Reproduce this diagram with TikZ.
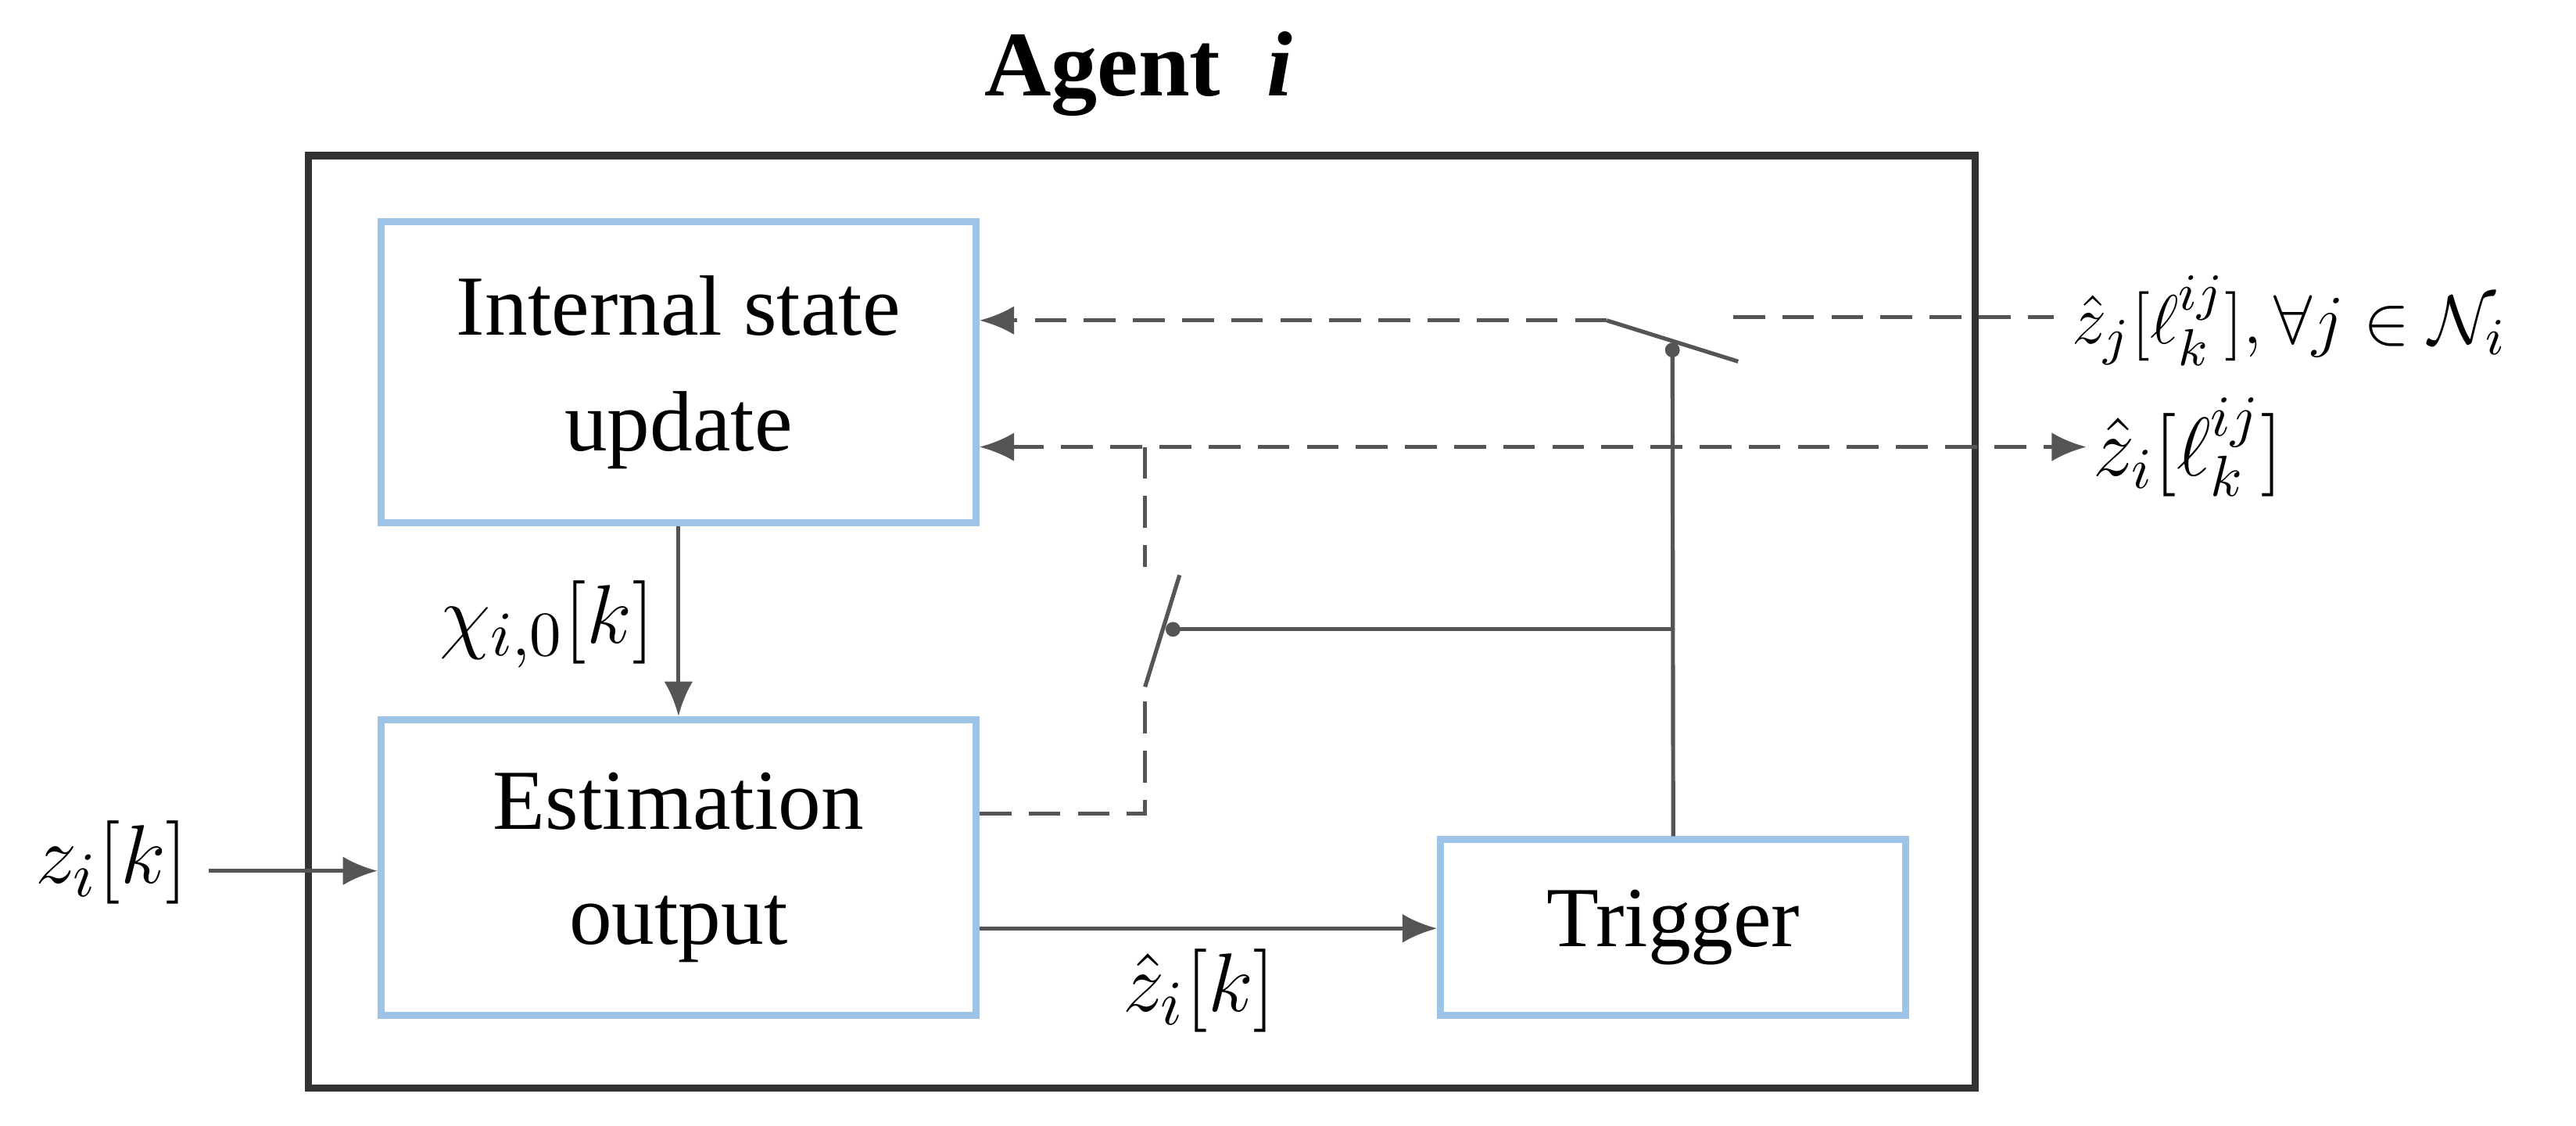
\documentclass[tikz,border=0pt]{standalone}
\usepackage{fontspec}
\setmainfont{Liberation Serif}
\usetikzlibrary{arrows.meta}
\begin{document}
\begin{tikzpicture}[x=0.01cm,y=-0.01cm,
 blk/.style={draw=bbox,line width=1.2pt,font=\fontsize{14.8}{18}\selectfont,align=center,inner sep=0},
 ln/.style={draw=lg,line width=0.7pt},
 arr/.style={ln,-{Latex[length=6pt,width=5pt]}},
 dsh/.style={dash pattern=on 5.5pt off 3pt},
 lab/.style={font=\fontsize{15}{17}\selectfont,text=black}]
\definecolor{bbox}{HTML}{9DC3E6}
\definecolor{lg}{HTML}{555555}
\useasboundingbox (0,0) rectangle (1568,685);
\node[font=\bfseries\fontsize{16}{19}\selectfont] (title) at (693,45) {Agent\ \ \textit{i}};
\node[draw=black!80,line width=1.3pt,minimum width=10.14cm,minimum height=5.67cm] (outer) at (695,378.5) {};
\node[blk,minimum width=3.62cm,minimum height=1.83cm] (isu) at (413,226.5) {Internal state\\[2pt]update};
\node[blk,minimum width=3.62cm,minimum height=1.80cm] (est) at (413,528) {Estimation\\[2pt]output};
\node[blk,minimum width=2.83cm,minimum height=1.07cm] (trig) at (1018.5,564.5) {Trigger};
\node[lab] (zin) at (68,525) {$z_i[k]$};
\node[lab] (chi) at (333,380) {$\chi_{i,0}[k]$};
\node[lab] (zh) at (730,603) {$\hat z_i[k]$};
\node[lab,font=\fontsize{13}{16}\selectfont,anchor=west,inner sep=1pt] (zj) at (1257,195) {$\hat z_j[\ell_k^{ij}],\forall j\in\mathcal{N}_i$};
\node[lab,font=\fontsize{13.6}{16}\selectfont,anchor=west,inner sep=1pt] (zi) at (1270,272) {$\hat z_i[\ell_k^{ij}]$};
\coordinate (s1a) at (978,195);
\coordinate (s1b) at (1058,220);
\coordinate (s1d) at (1018,213);
\coordinate (s2a) at (697,418);
\coordinate (s2b) at (718,350);
\coordinate (s2d) at (714,383);
\coordinate (j) at (1018,383);
\draw[arr] (isu.south) -- (est.north);
\draw[arr] (zin.east |- 0,530) -- (est.west |- 0,530);
\draw[arr] (est.east |- 0,565) -- (trig.west |- 0,565);
\draw[arr,dsh] (s1a) -- (isu.east |- s1a);
\draw[ln,dsh] (1055,193) -- (1250,193);
\draw[ln] (s1a) -- (s1b);
\draw[arr,dsh,{Latex[length=6pt,width=5pt]}-{Latex[length=6pt,width=5pt]}] (isu.east |- 0,272) -- (zi.west);
\draw[ln,dsh] (697,272) -- (697,345);
\draw[ln,dsh] (est.east |- 0,495) -- (697,495) -- (s2a);
\draw[ln] (s2a) -- (s2b);
\draw[ln] (s2d) -- (j);
\draw[ln] (trig.north) -- (s1d);
\fill[lg] (s1d) circle (4.5) (s2d) circle (4.5);
\end{tikzpicture}
\end{document}
